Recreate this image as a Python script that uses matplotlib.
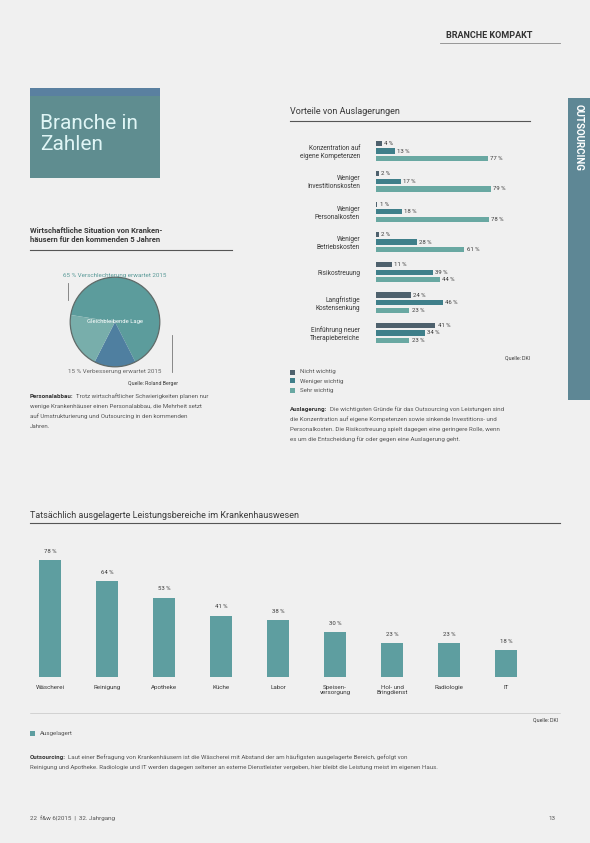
import matplotlib
matplotlib.use("Agg")
import matplotlib.pyplot as plt
from matplotlib.patches import Rectangle, Circle
from matplotlib.lines import Line2D

# ---------------- data ----------------
adv_categories = ["Konzentration auf\neigene Kompetenzen", "Weniger\nInvestitionskosten",
                  "Weniger\nPersonalkosten", "Weniger\nBetriebskosten", "Risikostreuung",
                  "Langfristige\nKostensenkung", "Einführung neuer\nTherapiebereiche"]
adv_series = ["Nicht wichtig", "Weniger wichtig", "Sehr wichtig"]
adv_nicht = [4, 2, 1, 2, 11, 24, 41]
adv_weniger = [13, 17, 18, 28, 39, 46, 34]
adv_sehr = [77, 79, 78, 61, 44, 23, 23]

out_categories = ["Wäscherei", "Reinigung", "Apotheke", "Küche", "Labor",
                  "Speisen-\nversorgung", "Hol- und\nBringdienst", "Radiologie", "IT"]
out_values = [78, 64, 53, 41, 38, 30, 23, 23, 18]

sit_labels = ["Verschlechterung", "Verbesserung", "Gleichbleibend"]
sit_values = [65, 15, 20]

# ---------------- helpers ----------------
W, H = 590, 843
plt.rcParams['font.family'] = ['Roboto', 'DejaVu Sans']
fig = plt.figure(figsize=(5.9, 8.43), dpi=100, facecolor='#f0f0f0')
renderer = fig.canvas.get_renderer()

def fx(x): return x / W
def fy(y): return 1 - y / H
def text(x, y, s, **kw): return fig.text(fx(x), fy(y), s, **kw)
def hline(x0, x1, y, lw=0.8, c='#555555'):
    fig.add_artist(Line2D([fx(x0), fx(x1)], [fy(y), fy(y)], lw=lw, color=c, transform=fig.transFigure))
def vline(x, y0, y1, lw=0.6, c='#777777'):
    fig.add_artist(Line2D([fx(x), fx(x)], [fy(y0), fy(y1)], lw=lw, color=c, transform=fig.transFigure))
def rect(x0, y0, x1, y1, **kw):
    fig.add_artist(Rectangle((fx(x0), fy(y1)), (x1 - x0) / W, (y1 - y0) / H,
                             transform=fig.transFigure, **kw))
def axes(x0, y0, x1, y1):
    return fig.add_axes([fx(x0), fy(y1), (x1 - x0) / W, (y1 - y0) / H])

def para(x, y, bold, lines, fs=4.4, lh=10.2, color='#555555'):
    t = text(x, y, bold, fontsize=fs, fontweight='bold', color='#333333', va='center')
    w = t.get_window_extent(renderer).width * W / fig.bbox.width
    text(x + w + 2.5, y, lines[0], fontsize=fs, color=color, va='center')
    for i, ln in enumerate(lines[1:], start=1):
        text(x, y + i * lh, ln, fontsize=fs, color=color, va='center')

TXT = '#3a3a3a'
C1, C2, C3 = '#4e616d', '#3f7f8a', '#69a8a2'
TEAL = '#5e9ea0'

# ---------------- header ----------------
text(532, 35, "BRANCHE KOMPAKT", fontsize=6.5, fontweight='bold', color='#333333', ha='right', va='center')
hline(440, 560, 43, lw=0.6, c='#888888')

# right tab
rect(568, 98, 590, 400, color='#5e8795', lw=0)
text(579, 104, "OUTSOURCING", rotation=-90, fontsize=7, fontweight='bold', color='white',
     ha='center', va='top')

# title box
rect(30, 88, 160, 178, color='#5f8d90', lw=0)
rect(30, 88, 160, 96, color='#5a80a0', lw=0)
text(40, 114, "Branche in\nZahlen", fontsize=15, color='#dff5f5', va='top', ha='left', linespacing=1.12)

# ---------------- donut section ----------------
text(30, 227, "Wirtschaftliche Situation von Kranken-\nhäusern für den kommenden 5 Jahren",
     fontsize=5.5, fontweight='bold', color=TXT, va='top', linespacing=1.3)
hline(30, 232, 250)

axp = axes(59, 266, 171, 378)
axp.pie(sit_values, colors=['#5c9c9c', '#4f7fa0', '#78aeab'], startangle=171,
        counterclock=False, wedgeprops=dict(linewidth=0))
axp.add_patch(Circle((0, 0), 1.0, fill=False, edgecolor='#5f6a68', lw=0.9))
text(115, 276, "65 % Verschlechterung erwartet 2015", fontsize=4.5, color='#5a9a98', ha='center', va='center')
text(115, 371, "15 % Verbesserung erwartet 2015", fontsize=4.5, color='#666666', ha='center', va='center')
text(115, 322, "Gleichbleibende Lage", fontsize=4.2, color='white', ha='center', va='center')
vline(68, 283, 300)
vline(172, 335, 372)
text(178, 383, "Quelle: Roland Berger", fontsize=3.8, color=TXT, ha='right', va='center')
para(30, 396, "Personalabbau:",
     ["Trotz wirtschaftlicher Schwierigkeiten planen nur",
      "wenige Krankenhäuser einen Personalabbau, die Mehrheit setzt",
      "auf Umstrukturierung und Outsourcing in den kommenden",
      "Jahren."])

# ---------------- horizontal grouped bars ----------------
text(290, 112, "Vorteile von Auslagerungen", fontsize=6.5, color=TXT, va='center')
hline(290, 530, 121)

axh = axes(376, 138, 521, 346)
n = len(adv_categories)
off = 0.25
hgt = 0.17
for vals, col, d in [(adv_nicht, C1, -off), (adv_weniger, C2, 0), (adv_sehr, C3, off)]:
    pos = [i + d for i in range(n)]
    axh.barh(pos, vals, height=hgt, color=col, lw=0)
    for p, v in zip(pos, vals):
        axh.text(v + 1.5, p, f"{v} %", fontsize=4.3, color=TXT, va='center', ha='left')
axh.set_xlim(0, 100)
axh.set_ylim(6.43, -0.43)
axh.set_yticks(range(n))
axh.set_yticklabels(adv_categories, fontsize=4.7, color=TXT)
axh.tick_params(axis='y', length=0, pad=11.5)
axh.set_xticks([])
axh.patch.set_alpha(0)
for s in axh.spines.values():
    s.set_visible(False)

text(530, 358, "Quelle: DKI", fontsize=3.8, color=TXT, ha='right', va='center')
for i, (lab, col) in enumerate(zip(adv_series, [C1, C2, C3])):
    y = 372 + i * 9
    rect(290, y - 2.5, 295, y + 2.5, color=col, lw=0)
    text(300, y, lab, fontsize=4.4, color='#555555', va='center')
para(290, 409, "Auslagerung:",
     ["Die wichtigsten Gründe für das Outsourcing von Leistungen sind",
      "die Konzentration auf eigene Kompetenzen sowie sinkende Investitions- und",
      "Personalkosten. Die Risikostreuung spielt dagegen eine geringere Rolle, wenn",
      "es um die Entscheidung für oder gegen eine Auslagerung geht."])

# ---------------- vertical bars ----------------
text(30, 515, "Tatsächlich ausgelagerte Leistungsbereiche im Krankenhauswesen", fontsize=6.5, color=TXT, va='center')
hline(30, 560, 523)

axv = axes(21.5, 527, 534.5, 677)
xs = list(range(len(out_categories)))
axv.bar(xs, out_values, width=0.4, color=TEAL, lw=0)
for x, v in zip(xs, out_values):
    axv.text(x, v + 4, f"{v} %", fontsize=4.3, color=TXT, ha='center', va='bottom')
axv.set_xlim(-0.5, 8.5)
axv.set_ylim(0, 100)
axv.set_xticks(xs)
axv.set_xticklabels(out_categories, fontsize=4.5, color=TXT, va='top')
axv.tick_params(axis='x', length=0, pad=5.5)
axv.set_yticks([])
axv.patch.set_alpha(0)
for s in axv.spines.values():
    s.set_visible(False)

hline(30, 560, 713, lw=0.4, c='#bbbbbb')
text(558, 720, "Quelle: DKI", fontsize=3.8, color=TXT, ha='right', va='center')
rect(30, 730.5, 35, 735.5, color=TEAL, lw=0)
text(40, 733, "Ausgelagert", fontsize=4.4, color='#555555', va='center')
para(30, 757, "Outsourcing:",
     ["Laut einer Befragung von Krankenhäusern ist die Wäscherei mit Abstand der am häufigsten ausgelagerte Bereich, gefolgt von",
      "Reinigung und Apotheke. Radiologie und IT werden dagegen seltener an externe Dienstleister vergeben, hier bleibt die Leistung meist im eigenen Haus."])

# footer
text(30, 818, "22  f&w 6|2015  |  32. Jahrgang", fontsize=4.5, color='#555555', va='center')
text(556, 818, "13", fontsize=4.5, color='#555555', va='center', ha='right')

fig.savefig("out.png", dpi=100, facecolor=fig.get_facecolor())
